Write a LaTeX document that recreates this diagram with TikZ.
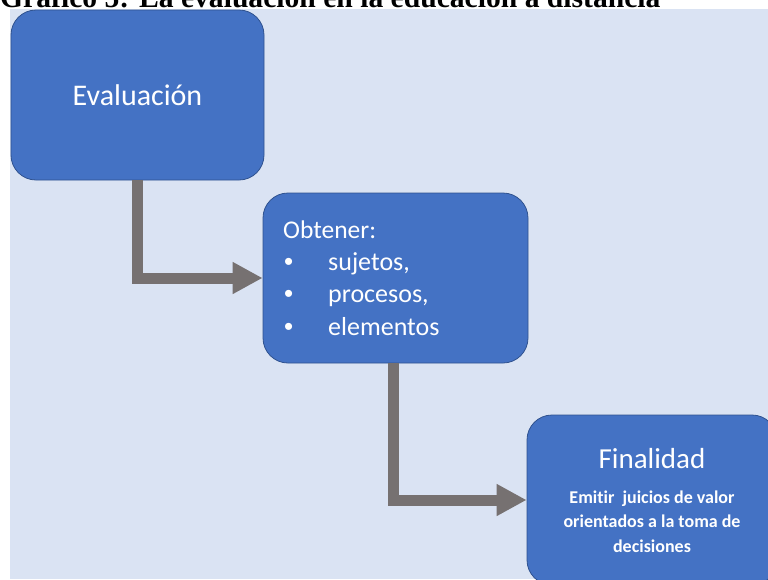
\documentclass[tikz,border=0pt]{standalone}
\usepackage{fontspec}
\setmainfont{Carlito}[Ligatures={NoCommon}]
\newfontfamily\titlefont{Liberation Serif}
\newfontfamily\vinetafont{Liberation Sans}
\usetikzlibrary{arrows.meta}
\definecolor{fondo}{HTML}{DAE3F3}
\definecolor{azulcaja}{HTML}{4472C4}
\definecolor{bordecaja}{HTML}{2F528F}
\definecolor{grisflecha}{HTML}{767171}
\newcommand{\vineta}{\makebox[44pt][l]{{\vinetafont •}}}
\tikzset{
  bloque/.style={draw=bordecaja, fill=azulcaja, line width=0.8pt, rounded corners=25pt,
    minimum width=#1, minimum height=170pt, inner sep=0pt},
  texto/.style={text=white, inner sep=0pt},
  flecha/.style={draw=grisflecha, line width=11pt, line join=miter,
    -{Triangle[length=30pt,width=30pt,fill=grisflecha]}}
}
\begin{document}
\begin{tikzpicture}[x=1pt,y=-1pt]
    \useasboundingbox (0,0) rectangle (768,579);
    \clip (0,0) rectangle (768,579);

    % background and title
    \fill[fondo] (10,9) rectangle (768,579);
    \node[anchor=base west, inner sep=0pt, font=\titlefont\bfseries\fontsize{29.6}{30}\selectfont] (titulo) at (0,7) {Gráfico 5: La evaluación en la educación a distancia};

    % the three boxes
    \node[bloque=253pt] (evaluacion) at (137.5,95) {};
    \node[bloque=265pt] (obtener) at (395.5,278) {};
    \node[bloque=250pt] (finalidad) at (652,500) {};

    % arrows between the boxes
    \draw[flecha] (evaluacion.south) |- (obtener.west);
    \draw[flecha] ([xshift=-2pt]obtener.south) |- (finalidad.west);

    % text of evaluacion
    \node[texto, anchor=base, font=\fontsize{30}{30}\selectfont] (evaltexto) at (137.5,105) {Evaluación};

    % text of obtener
    \node[texto, anchor=base west, font=\fontsize{25.5}{30}\selectfont] (obt0) at (283,238) {Obtener:};
    \node[texto, anchor=base west, font=\fontsize{26}{30}\selectfont] (obt1) at (284,270) {\vineta sujetos,};
    \node[texto, anchor=base west, font=\fontsize{26}{30}\selectfont] (obt2) at (284,302.5) {\vineta procesos,};
    \node[texto, anchor=base west, font=\fontsize{26}{30}\selectfont] (obt3) at (284,335) {\vineta elementos};

    % text of finalidad
    \node[texto, anchor=base, font=\fontsize{29}{30}\selectfont] (fintitulo) at (652,468) {Finalidad};
    \node[texto, anchor=base, font=\bfseries\fontsize{18}{20}\selectfont] (fin1) at (652,503) {Emitir\ \ juicios de valor};
    \node[texto, anchor=base, font=\bfseries\fontsize{18}{20}\selectfont] (fin2) at (652,527.5) {orientados a la toma de};
    \node[texto, anchor=base, font=\bfseries\fontsize{18}{20}\selectfont] (fin3) at (652,552) {decisiones};

\end{tikzpicture}
\end{document}
